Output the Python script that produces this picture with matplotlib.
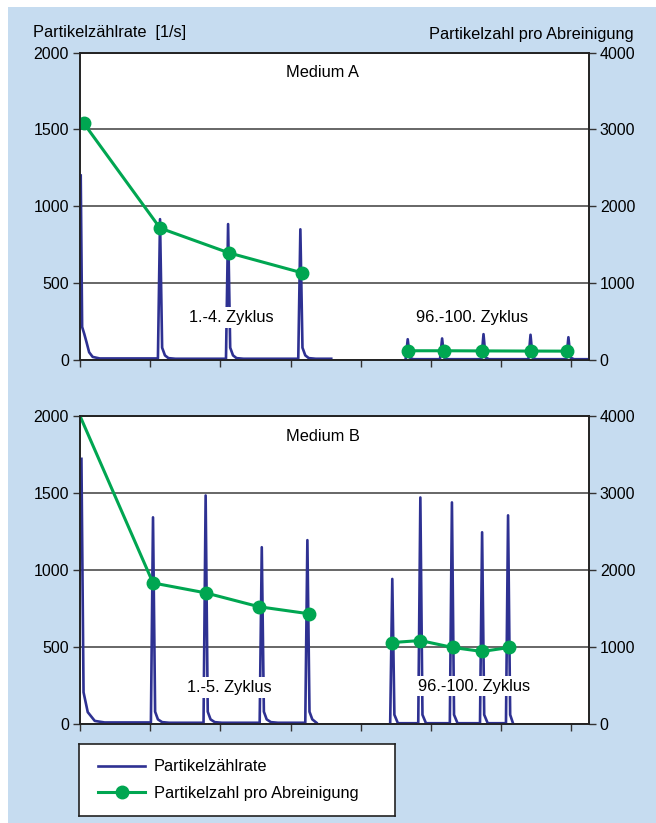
import matplotlib.pyplot as plt
from matplotlib.lines import Line2D
from matplotlib.patches import Rectangle

plt.rcParams['font.family'] = ['Liberation Sans', 'DejaVu Sans']

# Medium A: Partikelzählrate [1/s] (blue), cycles 1-4 and 96-100
rate_a1_t = [0.01, 0.03, 0.06, 0.09, 0.13, 0.18, 0.28,
             1.11, 1.14, 1.17, 1.21, 1.26, 1.36,
             2.08, 2.11, 2.14, 2.18, 2.23, 2.33,
             3.11, 3.14, 3.17, 3.21, 3.26, 3.36, 3.58]
rate_a1 = [1200, 215, 170, 120, 50, 20, 10,
           10, 916, 80, 30, 12, 8,
           8, 884, 80, 30, 12, 8,
           8, 850, 80, 30, 12, 8, 8]
rate_a2_t = [4.64, 4.67, 4.70, 4.75, 5.13, 5.16, 5.19, 5.24, 5.72, 5.75, 5.78, 5.83,
             6.39, 6.42, 6.45, 6.50, 6.93, 6.96, 6.99, 7.04, 7.25]
rate_a2 = [5, 135, 15, 5, 5, 140, 15, 5, 5, 168, 15, 5,
           5, 164, 15, 5, 5, 148, 15, 5, 5]

# Medium A: Partikelzahl pro Abreinigung (green)
count_a1_t = [0.05, 1.14, 2.12, 3.16]
count_a1 = [3084, 1716, 1394, 1135]
count_a2_t = [4.67, 5.18, 5.73, 6.42, 6.94]
count_a2 = [120, 120, 118, 116, 115]

# Medium B: cycles 1-5 and 96-100
rate_b1_t = [0.02, 0.05, 0.11, 0.21, 0.35,
             1.01, 1.04, 1.07, 1.11, 1.17, 1.27,
             1.76, 1.79, 1.82, 1.86, 1.92, 2.02,
             2.56, 2.59, 2.62, 2.66, 2.72, 2.82,
             3.21, 3.24, 3.27, 3.31, 3.37]
rate_b1 = [1722, 206, 77, 20, 10,
           10, 1342, 80, 30, 12, 8,
           8, 1484, 80, 30, 12, 8,
           8, 1148, 80, 30, 12, 8,
           8, 1194, 80, 30, 8]
rate_b2_t = [4.42, 4.45, 4.48, 4.53, 4.82, 4.85, 4.88, 4.93, 5.27, 5.30, 5.33, 5.38,
             5.70, 5.73, 5.76, 5.81, 6.07, 6.10, 6.13, 6.17]
rate_b2 = [5, 942, 60, 5, 5, 1471, 60, 5, 5, 1439, 60, 5,
           5, 1245, 60, 5, 5, 1355, 60, 5]

count_b1_t = [0.0, 1.04, 1.79, 2.55, 3.26]
count_b1 = [4000, 1832, 1703, 1523, 1432]
count_b2_t = [4.45, 4.85, 5.31, 5.73, 6.12]
count_b2 = [1058, 1084, 994, 942, 994]

left_ticks = [0, 500, 1000, 1500, 2000]
right_ticks = [0, 1000, 2000, 3000, 4000]

blue = '#2e3192'
green = '#00a651'
bg = '#c6dcf0'
fs = 11.8
tfs = 11.5

fig = plt.figure(figsize=(6.56, 8.23), dpi=100)
fig.patches.append(Rectangle((8 / 656, 0), 1, 1 - 7 / 823, transform=fig.transFigure,
                             facecolor=bg, edgecolor='none', zorder=-10))


def panel(rect, r1t, r1, r2t, r2, c1t, c1, c2t, c2, title, lab1, lab1_xy, lab2_xy, skip_first):
    ax = fig.add_axes(rect)
    ax.plot(r1t, r1, color=blue, lw=1.9, zorder=3)
    ax.plot(r2t, r2, color=blue, lw=1.9, zorder=3)
    ax.set_xlim(0, 7.25)
    ax.set_ylim(0, 2000)
    ax.set_xticks(range(8))
    ax.set_xticklabels([])
    ax.set_yticks(left_ticks)
    ax.yaxis.grid(True, color='#4d4d4d', lw=1.2)
    ax.set_axisbelow(True)
    ax.tick_params(labelsize=tfs, length=5, width=1, color='#333333', pad=3)
    for s in ax.spines.values():
        s.set_color('#222222')
        s.set_linewidth(1.2)

    ax2 = ax.twinx()
    ax2.set_ylim(0, 4000)
    ax2.set_yticks(right_ticks)
    ax2.tick_params(labelsize=tfs, length=5, width=1, color='#333333', pad=3)
    me = list(range(1, len(c1))) if skip_first else None
    ax2.plot(c1t, c1, color=green, lw=2.2, marker='o', ms=9, markevery=me)
    ax2.plot(c2t, c2, color=green, lw=2.2, marker='o', ms=9)
    for s in ax2.spines.values():
        s.set_color('#222222')
        s.set_linewidth(1.2)

    ax2.text(0.477, 0.935, title, transform=ax2.transAxes, ha='center', va='center', fontsize=fs)
    box = dict(facecolor='white', edgecolor='none', pad=2)
    ax2.text(lab1_xy[0], lab1_xy[1], lab1, transform=ax2.transAxes,
             ha='center', va='center', fontsize=fs, bbox=box, zorder=5)
    ax2.text(lab2_xy[0], lab2_xy[1], '96.-100. Zyklus', transform=ax2.transAxes,
             ha='center', va='center', fontsize=fs, bbox=box, zorder=5)
    return ax, ax2


ax_a, ax_a2 = panel([0.122, 0.5626, 0.7755, 0.3736], rate_a1_t, rate_a1, rate_a2_t, rate_a2,
                    count_a1_t, count_a1, count_a2_t, count_a2,
                    'Medium A', '1.-4. Zyklus', (0.298, 0.139), (0.77, 0.139), False)
ax_b, ax_b2 = panel([0.122, 0.1203, 0.7755, 0.3742], rate_b1_t, rate_b1, rate_b2_t, rate_b2,
                    count_b1_t, count_b1, count_b2_t, count_b2,
                    'Medium B', '1.-5. Zyklus', (0.294, 0.119), (0.775, 0.123), True)

fig.text(33 / 656, 1 - 33 / 823, 'Partikelzählrate  [1/s]', fontsize=fs, va='center', ha='left')
fig.text(634 / 656, 1 - 34 / 823, 'Partikelzahl pro Abreinigung', fontsize=fs, va='center', ha='right')

# legend box
lax = fig.add_axes([79 / 656, 1 - 816 / 823, 316 / 656, 72 / 823])
lax.set_xticks([])
lax.set_yticks([])
for s in lax.spines.values():
    s.set_color('#222222')
    s.set_linewidth(1.2)
handles = [Line2D([], [], color=blue, lw=1.9),
           Line2D([], [], color=green, lw=2.2, marker='o', ms=9, markevery=[0])]
lax.legend(handles, ['Partikelzählrate', 'Partikelzahl pro Abreinigung'], loc='center left',
           frameon=False, fontsize=fs, handlelength=2.9, handletextpad=0.5,
           labelspacing=0.7, borderaxespad=0.75)

fig.savefig('out.png', dpi=100)
